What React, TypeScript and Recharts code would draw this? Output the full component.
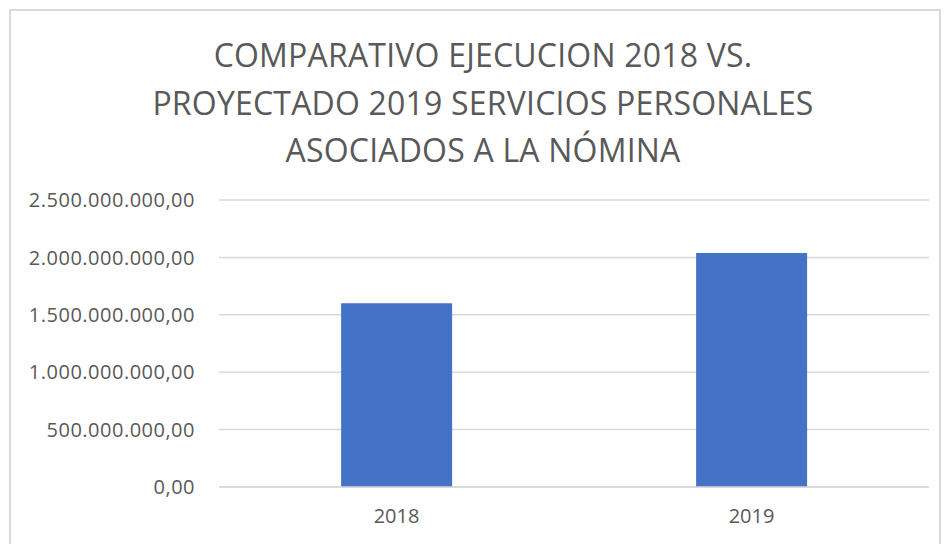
import { BarChart, Bar, XAxis, YAxis, CartesianGrid } from "recharts";

const years = ["2018", "2019"];
const amounts = [1600000000, 2038000000];
const yTicks = [0, 500000000, 1000000000, 1500000000, 2000000000, 2500000000];
const titleLines = [
  "COMPARATIVO EJECUCION 2018 VS.",
  "PROYECTADO 2019 SERVICIOS PERSONALES",
  "ASOCIADOS A LA NÓMINA",
];

const data = years.map((year, i) => ({ year, value: amounts[i] }));

const TEXT = "#595959";
const GRID = "#d9d9d9";
const FONT = "'Open Sans', sans-serif";

// 2500000000 -> "2.500.000.000,00"
function formatMoney(v: number) {
  const s = Math.round(v).toString().replace(/\B(?=(\d{3})+(?!\d))/g, ".");
  return `${s},00`;
}

export default function App() {
  return (
    <div
      style={{
        position: "absolute",
        left: 0,
        top: 0,
        width: 944,
        height: 544,
        overflow: "hidden",
        background: "#fff",
        fontFamily: FONT,
      }}
    >
      <div
        style={{
          position: "absolute",
          left: 9,
          top: 9,
          width: 932,
          height: 560,
          border: `2px solid ${GRID}`,
          boxSizing: "border-box",
        }}
      />
      <div
        style={{
          position: "absolute",
          left: 0,
          top: 31,
          width: 966,
          textAlign: "center",
          color: TEXT,
          fontSize: 32,
          lineHeight: "47.5px",
          letterSpacing: 0.2,
        }}
      >
        {titleLines.map((line) => (
          <div key={line}>{line}</div>
        ))}
      </div>
      <div style={{ position: "absolute", left: 0, top: 0 }}>
        <BarChart
          width={944}
          height={544}
          data={data}
          margin={{ top: 200, right: 15, bottom: 27, left: 0 }}
          barCategoryGap="34.4%"
        >
          <CartesianGrid
            vertical={false}
            stroke={GRID}
            strokeWidth={1.5}
          />
          <XAxis
            dataKey="year"
            axisLine={{ stroke: GRID, strokeWidth: 1.5 }}
            tickLine={false}
            tickSize={0}
            tickMargin={22}
            tick={{ fill: TEXT, fontSize: 20, fontFamily: FONT }}
          />
          <YAxis
            width={219}
            domain={[0, 2500000000]}
            ticks={yTicks}
            interval={0}
            axisLine={false}
            tickLine={false}
            tickSize={0}
            tickMargin={24}
            tickFormatter={formatMoney}
            tick={{ fill: TEXT, fontSize: 20, fontFamily: FONT, letterSpacing: 0.5 }}
          />
          <Bar dataKey="value" fill="#4472C4" isAnimationActive={false} />
        </BarChart>
      </div>
    </div>
  );
}
